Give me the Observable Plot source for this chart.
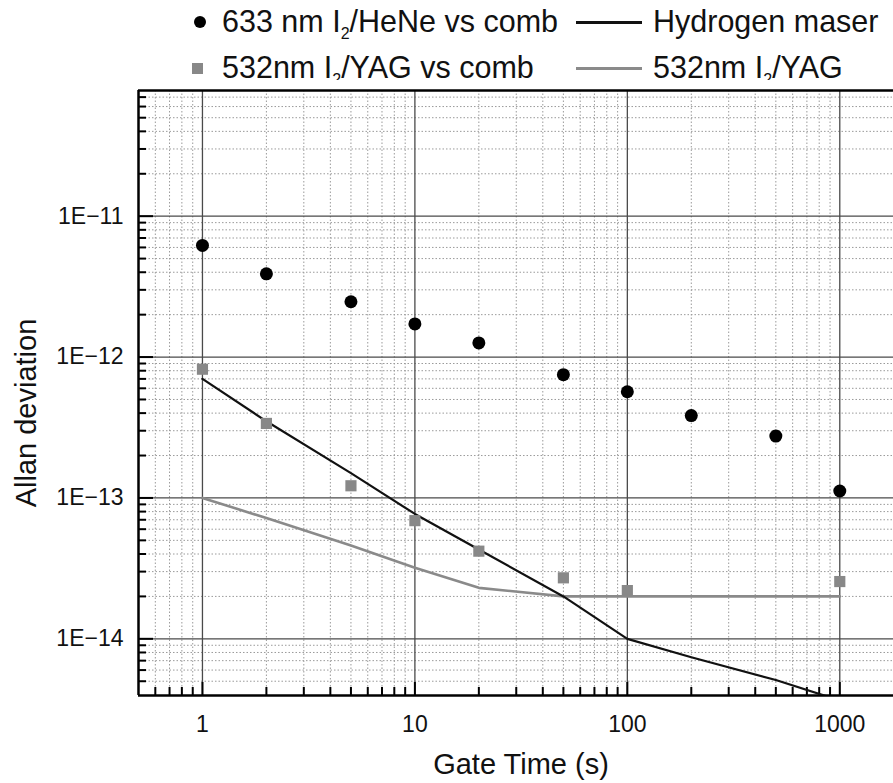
<!DOCTYPE html>
<html><head><meta charset="utf-8">
<script src="https://cdn.jsdelivr.net/npm/d3@7"></script>
<script src="https://cdn.jsdelivr.net/npm/@observablehq/plot@0.6"></script>
<style>
body{margin:0;background:#fff;font-family:"Liberation Sans",Arial,sans-serif;}
#wrap{position:relative;width:893px;height:783px;overflow:hidden;background:#fff}
#legend{position:absolute;left:0;top:0;width:893px;height:90px;font-size:30.5px;color:#111}
.item{position:absolute;white-space:nowrap;line-height:1}
.item sub{font-size:16px;vertical-align:-7px;line-height:0}
.sym{position:absolute}
#chart{position:absolute;left:0;top:80px}
</style></head><body>
<div id="wrap">
  <div id="legend"></div>
  <div id="chart"></div>
</div>
<script>
// ---- data ----
const heNeTimes = [1, 2, 5, 10, 20, 50, 100, 200, 500, 1000];
const heNeVsComb = [6.2e-12, 3.9e-12, 2.47e-12, 1.72e-12, 1.26e-12, 7.5e-13, 5.67e-13, 3.84e-13, 2.75e-13, 1.12e-13];
const yagCombTimes = [1, 2, 5, 10, 20, 50, 100, 1000];
const yagVsComb = [8.2e-13, 3.38e-13, 1.22e-13, 6.9e-14, 4.19e-14, 2.71e-14, 2.2e-14, 2.55e-14];
const maserTimes = [1, 2, 5, 10, 20, 50, 100, 200, 500, 1000];
const maserDev = [7e-13, 3.5e-13, 1.5e-13, 7.7e-14, 4.3e-14, 2e-14, 1e-14, 7.4e-15, 5.1e-15, 3.65e-15];
const yagTimes = [1, 2, 5, 10, 20, 50, 100, 1000];
const yagDev = [1e-13, 7.2e-14, 4.6e-14, 3.2e-14, 2.3e-14, 2e-14, 2e-14, 2e-14];

const seriesNames = ["633 nm I2/HeNe vs comb", "532nm I2/YAG vs comb", "Hydrogen maser", "532nm I2/YAG"];

const xMajorTicks = [1, 10, 100, 1000];
const xTickLabels = ["1", "10", "100", "1000"];
const xMinorTicks = [0.6, 0.7, 0.8, 0.9, 2, 3, 4, 5, 6, 7, 8, 9, 20, 30, 40, 50, 60, 70, 80, 90, 200, 300, 400, 500, 600, 700, 800, 900];
const yMajorTicks = [1e-11, 1e-12, 1e-13, 1e-14];
const yTickLabels = ["1E\u221211", "1E\u221212", "1E\u221213", "1E\u221214"];
const yMinorTicks = [5e-15, 6e-15, 7e-15, 8e-15, 9e-15,
  2e-14, 3e-14, 4e-14, 5e-14, 6e-14, 7e-14, 8e-14, 9e-14,
  2e-13, 3e-13, 4e-13, 5e-13, 6e-13, 7e-13, 8e-13, 9e-13,
  2e-12, 3e-12, 4e-12, 5e-12, 6e-12, 7e-12, 8e-12, 9e-12,
  2e-11, 3e-11, 4e-11, 5e-11, 6e-11, 7e-11];
const xDomain = [0.5, 1790];
const yDomain = [3.96e-15, 7.8e-11];
const xTitle = "Gate Time (s)";
const yTitle = "Allan deviation";

// ---- build tables ----
const heNe = heNeTimes.map((t, i) => ({t, v: heNeVsComb[i]}));
const yagComb = yagCombTimes.map((t, i) => ({t, v: yagVsComb[i]}));
const maser = maserTimes.map((t, i) => ({t, v: maserDev[i]}));
const yag = yagTimes.map((t, i) => ({t, v: yagDev[i]}));
const xLabelRows = xMajorTicks.map((t, i) => ({t, label: xTickLabels[i]}));
const yLabelRows = yMajorTicks.map((v, i) => ({v, label: yTickLabels[i]}));

const W = 893, H = 703, mL = 138, mR = 0, mT = 10, mB = 88;
const pw = W - mL - mR, ph = H - mT - mB;

const chart = Plot.plot({
  width: W, height: H,
  marginLeft: mL, marginRight: mR, marginTop: mT, marginBottom: mB,
  style: {fontFamily: "'Liberation Sans', Arial, sans-serif", color: "#111", background: "#fff"},
  x: {type: "log", domain: xDomain, axis: null},
  y: {type: "log", domain: yDomain, axis: null},
  marks: [
    Plot.gridX(xMinorTicks, {stroke: "#9a9a9a", strokeOpacity: 1, strokeWidth: 1, strokeDasharray: "1.5,2"}),
    Plot.gridY(yMinorTicks, {stroke: "#9a9a9a", strokeOpacity: 1, strokeWidth: 1, strokeDasharray: "1.5,2"}),
    Plot.gridX(xMajorTicks, {stroke: "#4a4a4a", strokeOpacity: 1, strokeWidth: 1.3}),
    Plot.gridY(yMajorTicks, {stroke: "#4a4a4a", strokeOpacity: 1, strokeWidth: 1.3}),
    // inward ticks
    Plot.tickY(yMajorTicks, {y: d => d, stroke: "#000", strokeWidth: 2, insetRight: pw - 15}),
    Plot.tickY(yMinorTicks, {y: d => d, stroke: "#000", strokeWidth: 2, insetRight: pw - 8}),
    Plot.tickX(xMajorTicks, {x: d => d, stroke: "#000", strokeWidth: 2, insetTop: ph - 13}),
    Plot.tickX(xMinorTicks, {x: d => d, stroke: "#000", strokeWidth: 2, insetTop: ph - 8}),
    // frame
    Plot.ruleX([xDomain[0]], {stroke: "#000", strokeWidth: 2.5}),
    Plot.ruleY([yDomain[0]], {stroke: "#000", strokeWidth: 2.5}),
    Plot.ruleY([yDomain[1]], {stroke: "#000", strokeWidth: 2.5}),
    // tick labels
    Plot.text(xLabelRows, {x: "t", text: "label", frameAnchor: "bottom", lineAnchor: "top", dy: 20, fontSize: 23, fill: "#111"}),
    Plot.text(yLabelRows, {y: "v", text: "label", frameAnchor: "left", textAnchor: "end", dx: -15, fontSize: 23, fill: "#111"}),
    // axis titles
    Plot.text([xTitle], {text: d => d, frameAnchor: "bottom", textAnchor: "middle", dx: 5, dy: 78, fontSize: 29, fill: "#111"}),
    Plot.text([yTitle], {text: d => d, frameAnchor: "left", textAnchor: "middle", dx: -112, dy: 20, rotate: -90, fontSize: 29, fill: "#111"}),
    // series
    Plot.line(yag, {x: "t", y: "v", stroke: "#8a8a8a", strokeWidth: 2.6, clip: true}),
    Plot.line(maser, {x: "t", y: "v", stroke: "#111", strokeWidth: 2.2, clip: true}),
    Plot.dot(yagComb, {x: "t", y: "v", symbol: "square", r: 6.3, fill: "#888", stroke: "none"}),
    Plot.dot(heNe, {x: "t", y: "v", r: 6.5, fill: "#000", stroke: "none"})
  ]
});
document.getElementById("chart").appendChild(chart);

// ---- legend ----
function labelHTML(name) {
  return name.replace("I2", "I<sub>2</sub>");
}
const legend = document.getElementById("legend");
const legendItems = [
  {name: seriesNames[0], kind: "dot", color: "#000", sx: 200, tx: 222, y: 22},
  {name: seriesNames[1], kind: "square", color: "#888", sx: 197, tx: 222, y: 68},
  {name: seriesNames[2], kind: "line", color: "#111", sx: 576, tx: 653, y: 22},
  {name: seriesNames[3], kind: "line", color: "#8a8a8a", sx: 576, tx: 653, y: 68}
];
legendItems.forEach(it => {
  const s = document.createElement("div");
  s.className = "sym";
  if (it.kind === "dot") {
    s.style.cssText = `left:${it.sx - 6}px;top:${it.y - 6}px;width:12px;height:12px;border-radius:50%;background:${it.color}`;
  } else if (it.kind === "square") {
    s.style.cssText = `left:${it.sx - 5}px;top:${it.y - 5}px;width:11px;height:11px;background:${it.color}`;
  } else {
    s.style.cssText = `left:${it.sx}px;top:${it.y - 1}px;width:66px;height:2.5px;background:${it.color}`;
  }
  legend.appendChild(s);
  const t = document.createElement("div");
  t.className = "item";
  t.style.left = it.tx + "px";
  t.style.top = (it.y - 16) + "px";
  t.innerHTML = labelHTML(it.name);
  legend.appendChild(t);
});
</script>
</body></html>
